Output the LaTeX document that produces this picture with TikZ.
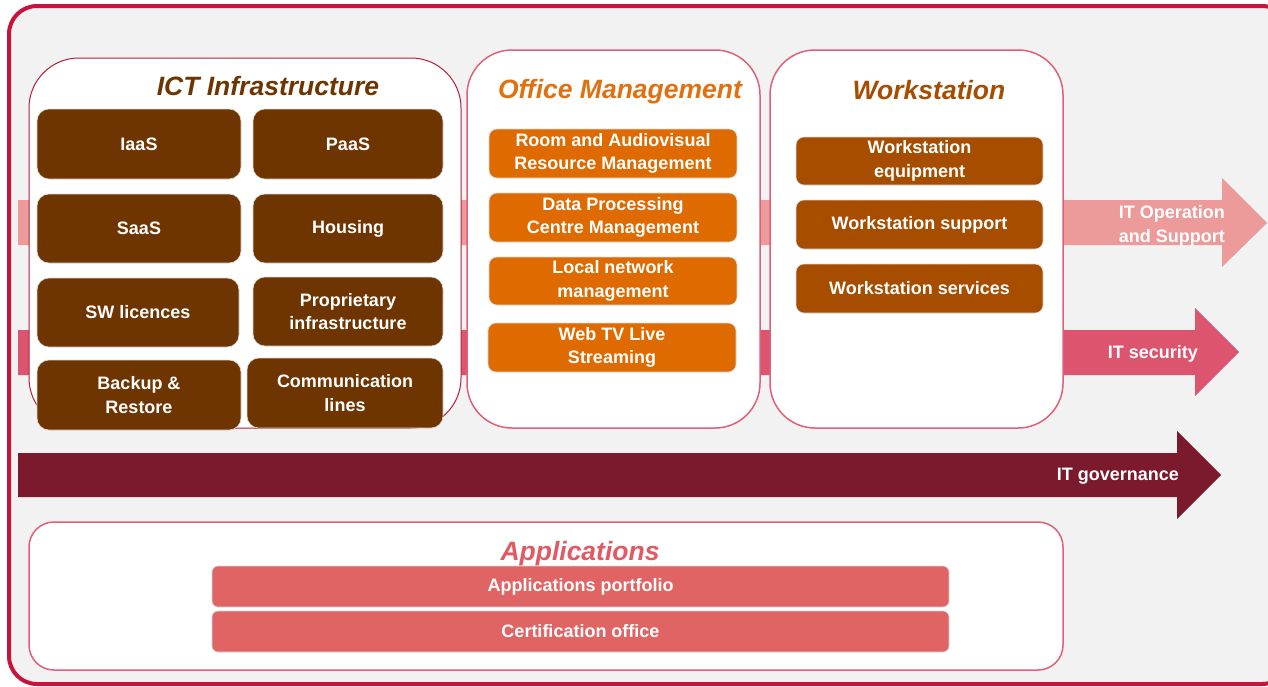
\documentclass[tikz,border=0pt]{standalone}
\usepackage{fontspec}
\setmainfont{Liberation Sans}
\definecolor{frame}{HTML}{C8143C}
\definecolor{bgc}{HTML}{F2F2F2}
\definecolor{ictc}{HTML}{6E3500}
\definecolor{offc}{HTML}{DE6A00}
\definecolor{offt}{HTML}{E07010}
\definecolor{wsc}{HTML}{A64D00}
\definecolor{appc}{HTML}{E06464}
\definecolor{appt}{HTML}{E05A64}
\definecolor{boxb}{HTML}{E06078}
\definecolor{ictb}{HTML}{B02038}
\definecolor{arA}{HTML}{EC9A9A}
\definecolor{arB}{HTML}{DC546E}
\definecolor{arC}{HTML}{7B1A2C}
\tikzset{
  tile/.style={draw=white!85!black, line width=0.6pt, inner sep=0pt, align=center, text=white,
    font=\fontsize{18}{23.5}\selectfont\bfseries, rounded corners=12pt},
  ttl/.style={inner sep=0pt, font=\fontsize{26.5}{30}\selectfont\bfseries\itshape},
  albl/.style={inner sep=0pt, text=white, font=\fontsize{18}{24}\selectfont\bfseries, anchor=east, align=right},
}
\begin{document}
\begin{tikzpicture}[x=1pt,y=-1pt]
\useasboundingbox (0,0) rectangle (1268,686);
% outer frame
\draw[frame, line width=4pt, fill=bgc, rounded corners=28pt] (9,6) rectangle (1290,684);
% arrows
\fill[arA] (18,200) -- (1222,200) -- (1222,178) -- (1267,223) -- (1222,267) -- (1222,245) -- (18,245) -- cycle;
\fill[arB] (18,330) -- (1195,330) -- (1195,308) -- (1239,352) -- (1195,396) -- (1195,375) -- (18,375) -- cycle;
\fill[arC] (18,453) -- (1177,453) -- (1177,431) -- (1221,475) -- (1177,519) -- (1177,497) -- (18,497) -- cycle;
\node[albl] (lop) at (1225,225.5) {IT Operation\\and Support};
\node[albl] (lsec) at (1198,353.5) {IT security};
\node[albl] (lgov) at (1179,476.5) {IT governance};
% containers
\draw[ictb, line width=1pt, fill=white, rounded corners=50pt] (29,58) rectangle (461,428);
\draw[boxb, line width=1.5pt, fill=white, rounded corners=45pt] (467,50) rectangle (760,428);
\draw[boxb, line width=1.5pt, fill=white, rounded corners=45pt] (770,50) rectangle (1063,428);
\draw[boxb, line width=1.5pt, fill=white, rounded corners=25pt] (29,522) rectangle (1063,670);
% titles
\node[ttl, text=ictc] (tict) at (268,86.5) {ICT Infrastructure};
\node[ttl, text=offt] (toff) at (620,92) {Office Management};
\node[ttl, text=wsc] (tws) at (929,90) {Workstation};
\node[ttl, text=appt] (tapp) at (580,554) {Applications};
% ICT tiles
\node[tile, fill=ictc, minimum width=204pt, minimum height=70pt] (iaas) at (139,144) {IaaS};
\node[tile, fill=ictc, minimum width=190pt, minimum height=70pt] (paas) at (348,144) {PaaS};
\node[tile, fill=ictc, minimum width=204pt, minimum height=69pt] (saas) at (139,228.5) {SaaS};
\node[tile, fill=ictc, minimum width=190pt, minimum height=69pt] (hous) at (348,228.5) {Housing};
\node[tile, fill=ictc, minimum width=202pt, minimum height=69pt] (swl) at (138,312.5) {SW licences};
\node[tile, fill=ictc, minimum width=190pt, minimum height=69pt] (prop) at (348,311.5) {Proprietary\\infrastructure};
\node[tile, fill=ictc, minimum width=204pt, minimum height=70pt] (back) at (139,395) {Backup \&\\Restore};
\node[tile, fill=ictc, minimum width=196pt, minimum height=70pt] (comm) at (345,393) {Communication\\lines};
% Office tiles
\node[tile, fill=offc, rounded corners=8pt, minimum width=248pt, minimum height=49pt] (room) at (613,153.5) {Room and Audiovisual\\Resource Management};
\node[tile, fill=offc, rounded corners=8pt, minimum width=248pt, minimum height=49pt] (dpc) at (613,217.5) {Data Processing\\Centre Management};
\node[tile, fill=offc, rounded corners=8pt, minimum width=248pt, minimum height=48pt] (lan) at (613,281) {Local network\\management};
\node[tile, fill=offc, rounded corners=8pt, minimum width=248pt, minimum height=49pt] (web) at (612,347.5) {Web TV Live\\Streaming};
% Workstation tiles
\node[tile, fill=wsc, rounded corners=8pt, minimum width=247pt, minimum height=48pt] (wse) at (919.5,161) {Workstation\\equipment};
\node[tile, fill=wsc, rounded corners=8pt, minimum width=247pt, minimum height=49pt] (wss) at (919.5,224.5) {Workstation support};
\node[tile, fill=wsc, rounded corners=8pt, minimum width=247pt, minimum height=49pt] (wsv) at (919.5,288.5) {Workstation services};
% Applications tiles
\node[tile, fill=appc, rounded corners=6pt, minimum width=737pt, minimum height=41pt] (port) at (580.5,586.5) {Applications portfolio};
\node[tile, fill=appc, rounded corners=6pt, minimum width=737pt, minimum height=41pt] (cert) at (580.5,631.5) {Certification office};
\end{tikzpicture}
\end{document}
